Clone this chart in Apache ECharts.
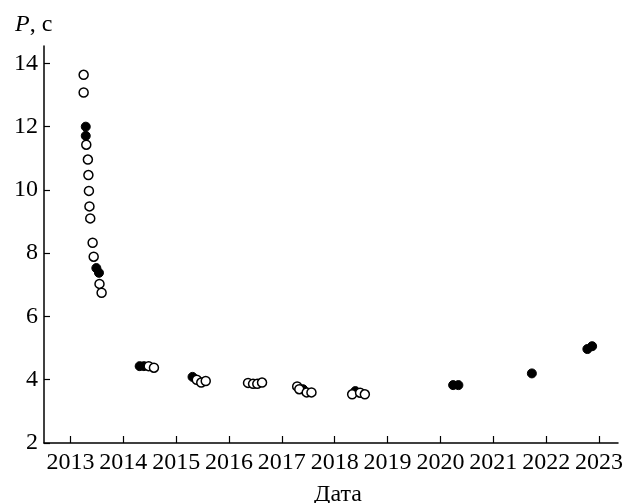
<!DOCTYPE html>
<html>
<head>
<meta charset="utf-8">
<script src="https://cdn.jsdelivr.net/npm/echarts@6/dist/echarts.min.js"></script>
<style>html,body{margin:0;padding:0;background:#fff}#c{width:626px;height:503px}</style>
</head>
<body>
<div id="c"></div>
<script>
// Data: [year, period P in seconds]
const openPoints = [
  [2013.25, 13.64], [2013.25, 13.08], [2013.30, 11.43], [2013.33, 10.96],
  [2013.34, 10.47], [2013.35, 9.97], [2013.36, 9.48], [2013.375, 9.10],
  [2013.42, 8.33], [2013.44, 7.89], [2013.55, 7.03], [2013.59, 6.75],
  [2014.48, 4.43], [2014.58, 4.38],
  [2015.39, 4.00], [2015.475, 3.91], [2015.56, 3.96],
  [2016.36, 3.90], [2016.455, 3.87], [2016.535, 3.87], [2016.625, 3.91],
  [2017.29, 3.79], [2017.33, 3.70], [2017.47, 3.60], [2017.56, 3.60],
  [2018.33, 3.54], [2018.48, 3.59], [2018.57, 3.54]
];
const filledPoints = [
  [2013.29, 12.0], [2013.29, 11.71], [2013.49, 7.53], [2013.54, 7.38],
  [2014.31, 4.43], [2014.39, 4.43],
  [2015.31, 4.09],
  [2017.40, 3.70],
  [2018.39, 3.64],
  [2020.24, 3.83], [2020.34, 3.83],
  [2021.73, 4.20],
  [2022.78, 4.97], [2022.87, 5.06]
];
const xTicks = [2013, 2014, 2015, 2016, 2017, 2018, 2019, 2020, 2021, 2022, 2023];
const yTicks = [2, 4, 6, 8, 10, 12, 14];

const FONT = 'Liberation Serif';
const chart = echarts.init(document.getElementById('c'), null, {renderer: 'canvas'});
chart.setOption({
  animation: false,
  backgroundColor: '#fff',
  grid: {left: 44, right: 3, top: 46, bottom: 60, containLabel: false},
  title: [
    {
      text: '{i|P}{n|, с}',
      left: 10, top: 8,
      textStyle: {
        fontWeight: 'normal',
        rich: {
          i: {fontFamily: FONT, fontSize: 24, fontStyle: 'italic', fontWeight: 'normal', color: '#000'},
          n: {fontFamily: FONT, fontSize: 24, fontWeight: 'normal', color: '#000'}
        }
      }
    },
    {
      text: 'Дата',
      left: 333, top: 478, textAlign: 'center',
      textStyle: {fontFamily: FONT, fontSize: 24, fontWeight: 'normal', color: '#000'}
    }
  ],
  xAxis: {
    type: 'value',
    min: 2012.5, max: 2023.36,
    splitLine: {show: false},
    axisLine: {show: true, onZero: false, lineStyle: {color: '#000', width: 1.5}},
    axisTick: {show: true, inside: true, length: 7, customValues: xTicks, lineStyle: {color: '#000', width: 1.2}},
    axisLabel: {customValues: xTicks, margin: 8, fontFamily: FONT, fontSize: 24, color: '#000', formatter: v => String(v)}
  },
  yAxis: {
    type: 'value',
    min: 2, max: 14.55,
    splitLine: {show: false},
    axisLine: {show: true, onZero: false, lineStyle: {color: '#000', width: 1.5}},
    axisTick: {show: true, inside: true, length: 6, customValues: yTicks, lineStyle: {color: '#000', width: 1.2}},
    axisLabel: {customValues: yTicks, margin: 6, fontFamily: FONT, fontSize: 24, color: '#000'}
  },
  series: [
    {
      type: 'scatter', data: filledPoints, symbol: 'circle', symbolSize: 9,
      itemStyle: {color: '#000', borderColor: '#000', borderWidth: 1, opacity: 1}, z: 2
    },
    {
      type: 'scatter', data: openPoints, symbol: 'circle', symbolSize: 9,
      itemStyle: {color: '#fff', borderColor: '#000', borderWidth: 1.5, opacity: 1}, z: 3
    }
  ]
});
</script>
</body>
</html>
